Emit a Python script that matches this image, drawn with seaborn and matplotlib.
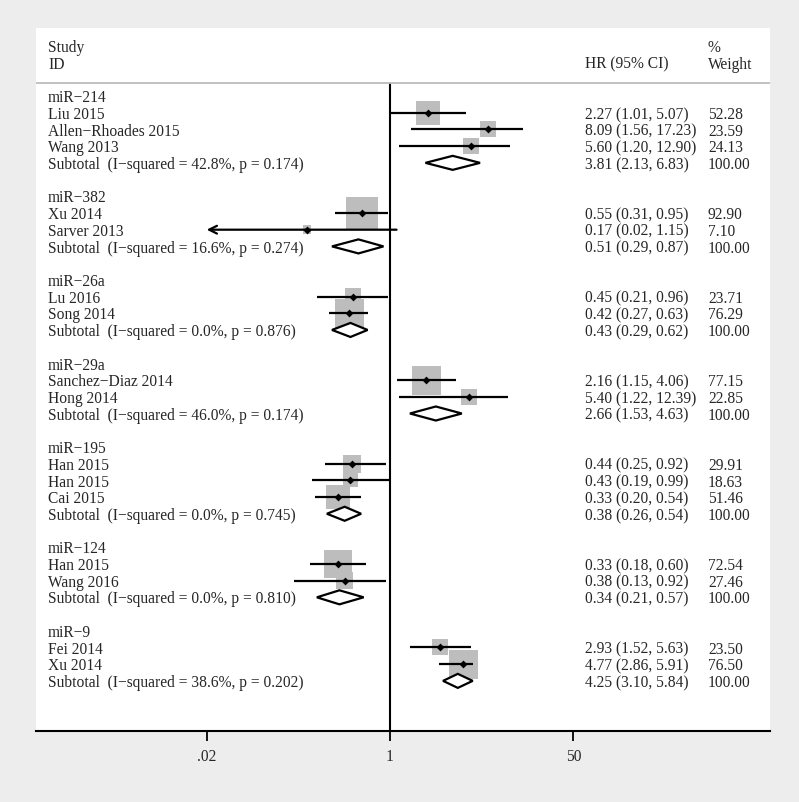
import numpy as np
import matplotlib
matplotlib.use("Agg")
import matplotlib.pyplot as plt
import matplotlib.transforms as mtransforms
import seaborn as sns

# data
groups = ["miR−214", "miR−382", "miR−26a", "miR−29a", "miR−195", "miR−124", "miR−9"]
group_of = [0, 0, 0, 1, 1, 2, 2, 3, 3, 4, 4, 4, 5, 5, 6, 6]
studies = ["Liu 2015", "Allen−Rhoades 2015", "Wang 2013", "Xu 2014", "Sarver 2013",
           "Lu 2016", "Song 2014", "Sanchez−Diaz 2014", "Hong 2014", "Han 2015",
           "Han 2015", "Cai 2015", "Han 2015", "Wang 2016", "Fei 2014", "Xu 2014"]
hr = [2.27, 8.09, 5.60, 0.55, 0.17, 0.45, 0.42, 2.16, 5.40, 0.44, 0.43, 0.33, 0.33, 0.38, 2.93, 4.77]
lo = [1.01, 1.56, 1.20, 0.31, 0.02, 0.21, 0.27, 1.15, 1.22, 0.25, 0.19, 0.20, 0.18, 0.13, 1.52, 2.86]
hi = [5.07, 17.23, 12.90, 0.95, 1.15, 0.96, 0.63, 4.06, 12.39, 0.92, 0.99, 0.54, 0.60, 0.92, 5.63, 5.91]
weight = [52.28, 23.59, 24.13, 92.90, 7.10, 23.71, 76.29, 77.15, 22.85, 29.91, 18.63, 51.46,
          72.54, 27.46, 23.50, 76.50]
sub_hr = [3.81, 0.51, 0.43, 2.66, 0.38, 0.34, 4.25]
sub_lo = [2.13, 0.29, 0.29, 1.53, 0.26, 0.21, 3.10]
sub_hi = [6.83, 0.87, 0.62, 4.63, 0.54, 0.57, 5.84]
i2 = [42.8, 16.6, 0.0, 46.0, 0.0, 0.0, 38.6]
p_het = [0.174, 0.274, 0.876, 0.174, 0.745, 0.810, 0.202]
xticks = [0.02, 1, 50]
xticklabels = [".02", "1", "50"]

sns.set_theme(style="white")
plt.rcParams["font.family"] = ["Liberation Serif", "DejaVu Serif"]
plt.rcParams["font.size"] = 11.2

#%% row layout
study_y = []
group_y = []
sub_y = []
row = 0
for g in range(len(groups)):
    group_y.append(row)
    row += 1
    for k in range(len(studies)):
        if group_of[k] == g:
            study_y.append(row)
            row += 1
    sub_y.append(row)
    row += 2

fig = plt.figure(figsize=(7.99, 8.03), dpi=100, facecolor="#ededed")
ax = fig.add_axes([36 / 799, 71 / 803, 734 / 799, 703 / 803])
ax.set_facecolor("white")
ax.set_xscale("log")
ax.set_xlim(10 ** (-354 / 107.9), 10 ** (380 / 107.9))
ax.set_ylim(38.0, -4.07)

# boxes sized by weight
side = 3.3 * np.sqrt(weight) * 0.72
sns.scatterplot(x=hr, y=study_y, s=side ** 2, marker="s", color="#bdbdbd",
                linewidth=0, ax=ax, zorder=2, legend=False)

# CI lines
for k in range(len(studies)):
    if k == 4:
        ax.annotate("", xy=(lo[k], study_y[k]), xytext=(hi[k], study_y[k]),
                    arrowprops=dict(arrowstyle="->", lw=1.6, color="black",
                                    shrinkA=0, shrinkB=0, mutation_scale=14),
                    zorder=3)
    else:
        ax.plot([lo[k], hi[k]], [study_y[k], study_y[k]], color="black", lw=1.6, zorder=3,
                solid_capstyle="butt")

sns.scatterplot(x=hr, y=study_y, s=16, marker="D", color="black", linewidth=0,
                ax=ax, zorder=4, legend=False)

# subtotal diamonds
h = 0.42
for g in range(len(groups)):
    ax.fill([sub_lo[g], sub_hr[g], sub_hi[g], sub_hr[g]],
            [sub_y[g], sub_y[g] - h, sub_y[g], sub_y[g] + h],
            facecolor="white", edgecolor="black", lw=1.6, zorder=3)

# null line and header rule
ax.vlines(1, -0.78, 38.0, color="black", lw=1.5, zorder=1)
ax.axhline(-0.78, color="#bcbcbc", lw=1.3)

# text columns (baseline aligned so all columns sit on the same line)
tr = mtransforms.blended_transform_factory(ax.transAxes, ax.transData)
xs, xh, xw = 12 / 734, 549 / 734, 672 / 734
off = 0.31


def put(x, y, s):
    ax.text(x, y + off, s, transform=tr, va="baseline")


put(xs, -3, "Study")
put(xs, -2, "ID")
put(xh, -2, "HR (95% CI)")
put(xw, -3, "%")
put(xw, -2, "Weight")
for g in range(len(groups)):
    put(xs, group_y[g], groups[g])
    put(xs, sub_y[g], f"Subtotal  (I−squared = {i2[g]:.1f}%, p = {p_het[g]:.3f})")
    put(xh, sub_y[g], f"{sub_hr[g]:.2f} ({sub_lo[g]:.2f}, {sub_hi[g]:.2f})")
    put(xw, sub_y[g], "100.00")
for k in range(len(studies)):
    put(xs, study_y[k], studies[k])
    put(xh, study_y[k], f"{hr[k]:.2f} ({lo[k]:.2f}, {hi[k]:.2f})")
    put(xw, study_y[k], f"{weight[k]:.2f}")

# axis
for s in ["top", "left", "right"]:
    ax.spines[s].set_visible(False)
ax.spines["bottom"].set_color("black")
ax.spines["bottom"].set_linewidth(1.5)
ax.set_xticks(xticks)
ax.set_xticklabels(xticklabels)
ax.xaxis.set_minor_locator(matplotlib.ticker.NullLocator())
ax.tick_params(axis="x", direction="out", length=7.5, width=1.3, pad=5, labelsize=11.2,
               bottom=True, color="black")
ax.set_yticks([])
ax.grid(False)

fig.savefig("out.png", dpi=100, facecolor=fig.get_facecolor())
